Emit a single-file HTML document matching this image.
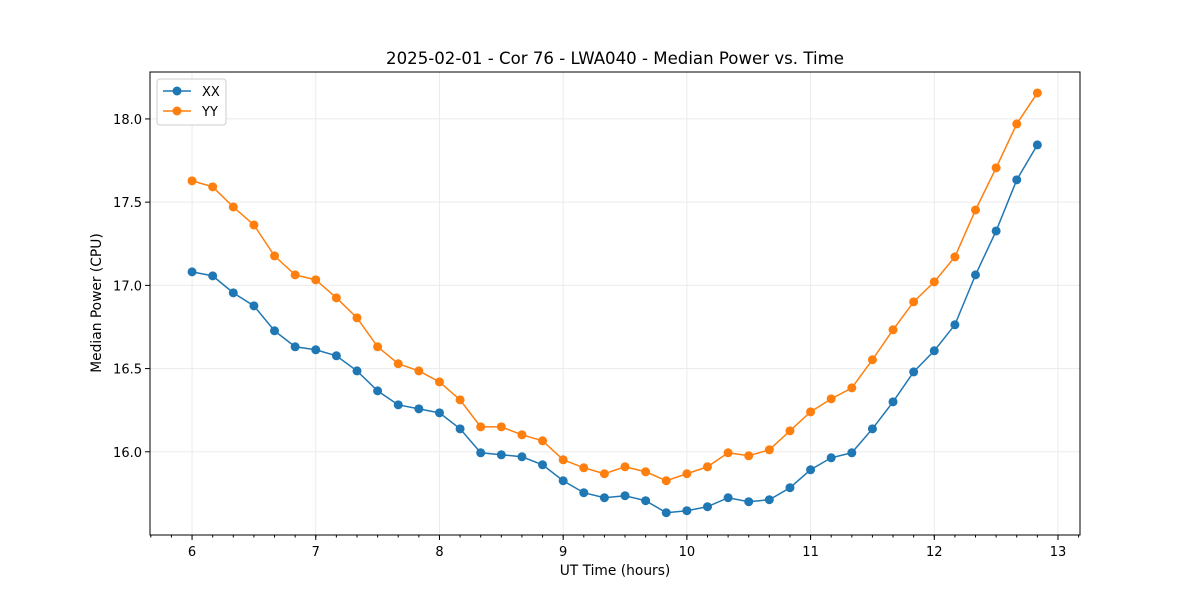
<!DOCTYPE html>
<html><head><meta charset="utf-8"><style>
body{margin:0;background:#fff;}
svg text{font-family:"DejaVu Sans","Liberation Sans",sans-serif;}
</style></head><body>
<svg id="chart" width="1200" height="600" xmlns="http://www.w3.org/2000/svg">
<rect width="1200" height="600" fill="#fff"/>
<text x="615" y="64" text-anchor="middle" font-size="16.6">2025-02-01 - Cor 76 - LWA040 - Median Power vs. Time</text>
<text x="615" y="575" text-anchor="middle" font-size="13.8">UT Time (hours)</text>
<text x="101" y="303" text-anchor="middle" font-size="13.8" transform="rotate(-90 101 303)">Median Power (CPU)</text>
<g id="grid"></g><g id="series"></g><g id="axes"></g>
<g>
<rect x="157" y="79" width="69" height="46" rx="3" fill="#fff" stroke="#ccc"/>
<g><line x1="163" y1="91" x2="191" y2="91" stroke="#1f77b4" stroke-width="1.5"/><circle cx="177" cy="91" r="4.5" fill="#1f77b4"/><text x="202" y="96" font-size="13">XX</text></g>
<g><line x1="163" y1="111" x2="191" y2="111" stroke="#ff7f0e" stroke-width="1.5"/><circle cx="177" cy="111" r="4.5" fill="#ff7f0e"/><text x="202" y="116" font-size="13">YY</text></g>
</g>
</svg>
<script>
const xxValues=[17.081,17.057,16.955,16.877,16.727,16.631,16.613,16.577,16.486,16.366,16.282,16.258,16.234,16.138,15.994,15.982,15.970,15.922,15.826,15.754,15.724,15.736,15.706,15.634,15.646,15.670,15.724,15.700,15.712,15.784,15.892,15.964,15.994,16.138,16.300,16.480,16.607,16.763,17.063,17.327,17.634,17.844];
const yyValues=[17.628,17.592,17.471,17.363,17.177,17.063,17.033,16.925,16.805,16.631,16.529,16.486,16.420,16.312,16.150,16.150,16.102,16.066,15.952,15.904,15.868,15.910,15.880,15.826,15.868,15.910,15.994,15.976,16.012,16.126,16.240,16.318,16.384,16.553,16.733,16.901,17.021,17.171,17.453,17.706,17.970,18.156];
const startHour=6, stepHours=1/6;
const xTicks=[6,7,8,9,10,11,12,13];
const yTicks=[16.0,16.5,17.0,17.5,18.0];
const L=150,R=1080,T=72,B=535;
const xMin=5.66,xMax=13.178,yMin=15.50,yMax=18.282;
const X=v=>L+(v-xMin)/(xMax-xMin)*(R-L);
const Y=v=>B-(v-yMin)/(yMax-yMin)*(B-T);
const NS="http://www.w3.org/2000/svg";
function mk(p,tag,a){const e=document.createElementNS(NS,tag);for(const k in a)e.setAttribute(k,a[k]);p.appendChild(e);return e;}
const grid=document.getElementById('grid'),axes=document.getElementById('axes'),ser=document.getElementById('series');
xTicks.forEach(t=>{const x=X(t);
 const g=mk(grid,'line',{x1:x,x2:x,y1:T,y2:B,stroke:'#ebebeb','stroke-width':1});
 
 
 mk(axes,'line',{x1:x,x2:x,y1:B,y2:B+5,stroke:'#000'});
 const tx=mk(axes,'text',{x:x,y:B+21,'text-anchor':'middle','font-size':13});tx.textContent=t;
 
 });
for(let m=Math.ceil(xMin*6);m<=xMax*6;m++){const x=X(m/6);mk(axes,'line',{x1:x,x2:x,y1:B,y2:B+2.5,stroke:'#000'});}
yTicks.forEach(t=>{const y=Y(t);
 const g=mk(grid,'line',{x1:L,x2:R,y1:y,y2:y,stroke:'#ebebeb','stroke-width':1});
 
 
 mk(axes,'line',{x1:L-5,x2:L,y1:y,y2:y,stroke:'#000'});
 const tx=mk(axes,'text',{x:L-8,y:y+5,'text-anchor':'end','font-size':13});tx.textContent=t.toFixed(1);
 
 });
const fr=mk(axes,'rect',{x:L,y:T,width:R-L,height:B-T,fill:'none',stroke:'#000','stroke-width':1});


function draw(vals,color,name){
 const pts=vals.map((v,i)=>[X(startHour+i*stepHours),Y(v)]);
 const pl=mk(ser,'polyline',{points:pts.map(p=>p.join(',')).join(' '),fill:'none',stroke:color,'stroke-width':1.5});
 
 
 pts.forEach(p=>{const c=mk(ser,'circle',{cx:p[0],cy:p[1],r:4.5,fill:color});
  
  });
}
draw(xxValues,'#1f77b4','xx');
draw(yyValues,'#ff7f0e','yy');
</script>
</body></html>
